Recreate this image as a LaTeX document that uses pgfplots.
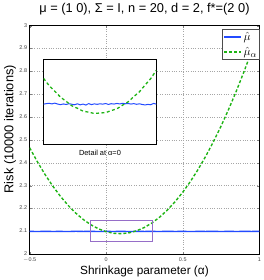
\documentclass[border=0pt]{standalone}
\usepackage{fontspec}
\setmainfont{Liberation Sans}
\usepackage{pgfplots}
\pgfplotsset{compat=1.18}
\definecolor{mblue}{RGB}{35,75,255}
\definecolor{mgreen}{RGB}{30,180,20}
\definecolor{mpurple}{RGB}{150,110,200}
\begin{document}
\begin{tikzpicture}
\begin{axis}[
  at={(0,0)}, anchor=south west,
  scale only axis, width=232bp, height=231bp,
  xmin=-0.5, xmax=1, ymin=2, ymax=3,
  xtick={-0.5,0,0.5,1}, xticklabels={$-$0.5,0,0.5,1},
  ytick={2,2.1,2.2,2.3,2.4,2.5,2.6,2.7,2.8,2.9,3},
  yticklabels={2,2.1,2.2,2.3,2.4,2.5,2.6,2.7,2.8,2.9,3},
  /pgf/number format/assume math mode=true,
  tick label style={font=\fontsize{5.5}{6}\selectfont, text=black!75, inner sep=0.5bp},
  xticklabel style={yshift=-3bp},
  yticklabel style={xshift=-2bp, yshift=0.5bp},
  major tick length=2bp,
  grid=major, grid style={dotted, black!35, line width=0.5pt},
  axis line style={black, line width=0.8pt},
  title={μ = (1 0), Σ = I, n = 20, d = 2, f*=(2 0)},
  title style={font=\fontsize{13}{14}\selectfont, at={(axis description cs:0.5,1.046)}, anchor=center},
  xlabel={Shrinkage parameter (α)},
  ylabel={Risk (10000 iterations)},
  xlabel style={font=\fontsize{12}{13}\selectfont, at={(axis description cs:0.5,-0.074)}, anchor=center},
  ylabel style={font=\fontsize{13}{14}\selectfont, at={(axis description cs:-0.086,0.547)}, anchor=center},
  legend style={at={(1.005,0.987)}, anchor=north east, draw=black!70, line width=1pt,
    font=\fontsize{13}{13}\selectfont, inner sep=1bp, row sep=1.5bp,
    legend cell align=left},
]
\addlegendimage{draw=mblue, color=mblue, line width=1.4pt, solid}
\addlegendimage{draw=mgreen, color=mgreen, line width=1.4pt, dash pattern=on 3bp off 2bp}
\addplot[mblue, line width=1.4pt, forget plot] coordinates {
(-0.50,2.1003)(-0.45,2.0996)(-0.40,2.1004)(-0.35,2.0998)(-0.30,2.1001)(-0.25,2.0995)
(-0.20,2.1006)(-0.15,2.0999)(-0.10,2.1002)(-0.05,2.0997)(0.00,2.1001)(0.05,2.0998)
(0.10,2.1003)(0.15,2.0996)(0.20,2.1002)(0.25,2.0999)(0.30,2.1001)(0.35,2.0997)
(0.40,2.1004)(0.45,2.0998)(0.50,2.1002)(0.55,2.0996)(0.60,2.1001)(0.65,2.0999)
(0.70,2.1003)(0.75,2.0997)(0.80,2.1002)(0.85,2.0998)(0.90,2.1001)(0.95,2.0999)(1.00,2.1002)};
\addplot[mgreen, line width=1.4pt, dash pattern=on 3bp off 2bp, forget plot] coordinates {
(-0.50,2.4659)(-0.45,2.4049)(-0.40,2.3493)(-0.35,2.2991)(-0.30,2.2543)(-0.25,2.2148)
(-0.20,2.1808)(-0.15,2.1522)(-0.10,2.1290)(-0.05,2.1112)(0.00,2.0987)(0.05,2.0917)
(0.10,2.0901)(0.15,2.0939)(0.20,2.1031)(0.25,2.1176)(0.30,2.1376)(0.35,2.1630)
(0.40,2.1938)(0.45,2.2300)(0.50,2.2715)(0.55,2.3185)(0.60,2.3709)(0.65,2.4287)
(0.70,2.4919)(0.75,2.5604)(0.80,2.6344)(0.85,2.7138)(0.90,2.7986)(0.95,2.8888)(1.00,2.9843)};
\addplot[mpurple, line width=0.6pt, forget plot] coordinates {
(-0.104,2.055)(0.30,2.055)(0.30,2.15)(-0.104,2.15)(-0.104,2.055)};
\legend{$\hat{\mu}$,$\hat{\mu}_\alpha$}
\end{axis}
\begin{axis}[
  at={(14bp,110.8bp)}, anchor=south west,
  scale only axis, width=114bp, height=86bp,
  xmin=-0.1, xmax=0.3, ymin=2.055, ymax=2.15,
  ticks=none,
  axis line style={black, line width=1.3pt},
  axis background/.style={fill=white},
  clip=true,
  xlabel={Detail at α=0},
  xlabel style={font=\fontsize{7.5}{8}\selectfont, at={(axis description cs:0.5,-0.1)}, anchor=center},
]
\addplot[mblue, line width=1pt] coordinates {
(-0.10,2.1002)(-0.09,2.1008)(-0.08,2.1011)(-0.07,2.1005)(-0.06,2.1013)(-0.05,2.1003)
(-0.04,2.0996)(-0.03,2.1004)(-0.02,2.0998)(-0.01,2.1007)(0.00,2.1001)(0.01,2.0995)
(0.02,2.1006)(0.03,2.0994)(0.04,2.1003)(0.05,2.0992)(0.06,2.1008)(0.07,2.0997)
(0.08,2.1005)(0.09,2.1000)(0.10,2.1006)(0.11,2.1002)(0.12,2.1009)(0.13,2.0999)
(0.14,2.1007)(0.15,2.1003)(0.16,2.1010)(0.17,2.1004)(0.18,2.1011)(0.19,2.1006)
(0.20,2.1009)(0.21,2.1003)(0.22,2.1008)(0.23,2.1000)(0.24,2.1006)(0.25,2.0998)
(0.26,2.0993)(0.27,2.0999)(0.28,2.0995)(0.29,2.1010)(0.30,2.1002)};
\addplot[mgreen, line width=1.3pt, dash pattern=on 3bp off 2.5bp] coordinates {
(-0.10,2.1290)(-0.08,2.1208)(-0.06,2.1146)(-0.04,2.1080)(-0.02,2.1034)(0.00,2.0984)
(0.02,2.0956)(0.04,2.0924)(0.06,2.0912)(0.08,2.0898)(0.10,2.0903)(0.12,2.0907)
(0.14,2.0930)(0.16,2.0950)(0.18,2.0990)(0.20,2.1028)(0.22,2.1086)(0.24,2.1140)
(0.26,2.1215)(0.28,2.1287)(0.30,2.1380)};
\end{axis}
\path[use as bounding box] (-30bp,-25.2bp) rectangle (236bp,254.6bp);
\end{tikzpicture}
\end{document}
